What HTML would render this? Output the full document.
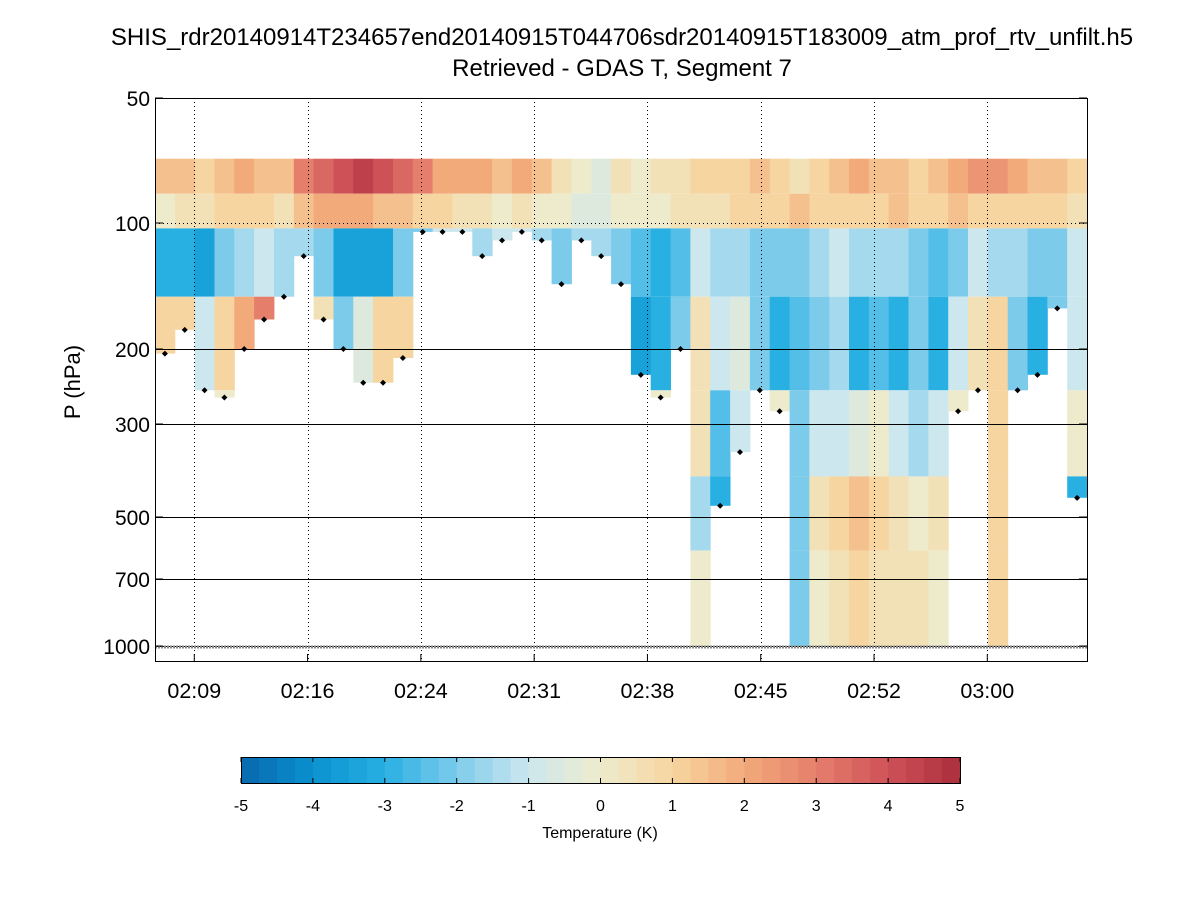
<!DOCTYPE html>
<html><head><meta charset="utf-8">
<style>
body{margin:0;background:#fff;}
svg text{font-family:"Liberation Sans",Arial,sans-serif;fill:#000;}
</style></head>
<body>
<svg id="chart" width="1200" height="900" viewBox="0 0 1200 900" xmlns="http://www.w3.org/2000/svg">
<rect width="1200" height="900" fill="#fff"/>
<text x="622" y="45" font-size="24" text-anchor="middle">SHIS_rdr20140914T234657end20140915T044706sdr20140915T183009_atm_prof_rtv_unfilt.h5</text>
<text x="622" y="76" font-size="24" text-anchor="middle">Retrieved - GDAS T, Segment 7</text>
<text x="0" y="0" font-size="22" text-anchor="middle" transform="translate(80,382) rotate(-90)">P (hPa)</text>
<g id="heat"></g>
<g id="grid"></g>
<g id="marks"></g>
<rect x="155.5" y="98.5" width="932" height="563" fill="none" stroke="#000" stroke-width="1"/>
<g id="axes"></g>
<g id="cbar"></g>
<text x="600" y="838" font-size="16" text-anchor="middle">Temperature (K)</text>
</svg>
<script>
const yTicks=[50,100,200,300,500,700,1000];
const xTickLabels=["02:09","02:16","02:24","02:31","02:38","02:45","02:52","03:00"];
const xTickMinutes=[129,136.5,144,151.5,159,166.5,174,181.5];
const cbTicks=[-5,-4,-3,-2,-1,0,1,2,3,4,5];
const layerTops=[70,85,103,150,250,400,600];
const layerBots=[85,103,150,250,400,600,1000];
const bottoms=[205,180,250,260,200,170,150,120,170,200,240,240,210,105,105,105,120,110,105,110,140,110,120,140,230,260,200,1000,470,350,250,280,1000,1000,1000,1000,1000,1000,1000,1000,280,250,1000,250,230,160,450];
const L1=[1.5,1.5,1,1.5,2,1.5,1.5, 3,3.5,4,4.5,4,3.5,3, 2,2,2,1.5,2,1.5,0.5, 0,-0.5,0.5,0,0.5,0.5,1, 1,1,1.5,1,0.5,1,1.5, 2,1.5,1.5,1,1.5,2,2.5, 2.5,2,1.5,1.5,1];
const L2=[0,0.5,0.5,1,1,1,0.5, 1.5,2,2,2,1.5,1.5,1, 1,0.5,0.5,0,0.5,0,0, -0.5,-0.5,0,0,0,0.5,0.5, 0.5,1,1,1,1.5,1,1, 1,1,1.5,1,1,1.5,1, 1,1,1,1,0.5];
const L3=[-3,-3,-3.5,-2,-1.5,-1,-1.5, -1.5,-2,-3.5,-3.5,-3.5,-2,-2, -1,-1,-1.5,-1,-1,-1.5,-2, -1.5,-1.5,-2,-2.5,-3,-2.5,-1, -1.5,-1.5,-2,-2,-2,-1.5,-1, -1.5,-1.5,-1.5,-2,-2.5,-2,-1, -1.5,-1.5,-2,-2,-1];
const L4=[1,1,-1,1,2,3,1, 0,0.5,-2,-0.5,1,1,0, 0,0,0,0,0,0,0, -2,-2,-3,-3.5,-3,-2,0.5, -1,-0.5,-2,-3,-2.5,-2,-1.5, -3,-2.5,-3,-2,-3,-1,0.5, 1,-2,-3,-2,-1];
const L5=[0,0,0,0,0,0,0, 0,0,0,0,0,0,0, 0,0,0,0,0,0,0, 0,0,0,0,0,0,0.5, -2.5,-1,0,0,-2,-1,-1, -0.5,0,-1,-1.5,-1,0,0, 1,0,0,0,0];
const L6=[0,0,0,0,0,0,0, 0,0,0,0,0,0,0, 0,0,0,0,0,0,0, 0,0,0,0,0,0,-1.5, -3,0,0,0,-2,0.5,1, 1.5,1,0.5,0,0.5,0,0, 1,0,0,0,-3];
const L7=[0,0,0,0,0,0,0, 0,0,0,0,0,0,0, 0,0,0,0,0,0,0, 0,0,0,0,0,0,0, 0,0,0,0,-2,0,0.5, 1,0.5,0.5,0.5,0,0,0, 1,0,0,0,-2];
const layers=[L1,L2,L3,L4,L5,L6,L7];

const svg=document.getElementById('chart');
const NS="http://www.w3.org/2000/svg";
const X0=155,X1=1087,Y0=98,Y1=662;
const tMin=126.4,tMax=188.1;
function xs(m){return X0+(m-tMin)/(tMax-tMin)*(X1-X0);}
const pA=[50,100,200,300,500,700,1000,1100],yA=[98,223,349,424,517,579,646,662];
function ys(p){for(let i=0;i<pA.length-1;i++){if(p<=pA[i+1]){const f=(Math.log(p)-Math.log(pA[i]))/(Math.log(pA[i+1])-Math.log(pA[i]));return yA[i]+f*(yA[i+1]-yA[i]);}}return Y1;}
const cstops=[[-5,[8,104,172]],[-4,[10,145,208]],[-3,[40,176,226]],[-2,[125,203,235]],[-1,[205,231,238]],[0,[238,235,205]],[1,[246,213,160]],[2,[242,170,123]],[3,[229,127,108]],[4,[207,81,88]],[5,[170,46,62]]];
function col(v){v=Math.max(-5,Math.min(5,v));for(let i=0;i<cstops.length-1;i++){if(v<=cstops[i+1][0]){const f=(v-cstops[i][0]);const a=cstops[i][1],b=cstops[i+1][1];return `rgb(${a.map((c,k)=>Math.round(c+f*(b[k]-c))).join(',')})`;}}return 'rgb(170,46,62)';}
function mk(tag,attrs,parent){const e=document.createElementNS(NS,tag);for(const k in attrs)e.setAttribute(k,attrs[k]);parent.appendChild(e);return e;}

const heat=document.getElementById('heat');
const nCol=bottoms.length,cw=(X1-X0)/nCol;
for(let c=0;c<nCol;c++){
  for(let l=0;l<layers.length;l++){
    const top=layerTops[l];let bot=Math.min(layerBots[l],bottoms[c]);
    if(top>=bot)continue;
    const y1=ys(top),y2=ys(bot);
    const r=mk('rect',{x:(X0+c*cw).toFixed(1),y:y1.toFixed(1),width:(cw+0.5).toFixed(1),height:(y2-y1).toFixed(1),fill:col(layers[l][c])},heat);
    
    
  }
}
const grid=document.getElementById('grid');
yTicks.forEach(p=>{
  if(p===50)return;
  const y=Math.round(ys(p))+0.5;
  const ln=mk('line',{x1:X0,x2:X1,y1:y,y2:y,stroke:'#000','stroke-width':1,'stroke-dasharray':p===100?'1,3':''},grid);
  
  
});
xTickMinutes.forEach(m=>{
  const x=Math.round(xs(m))+0.5;
  const ln=mk('line',{x1:x,x2:x,y1:Y0,y2:Y1,stroke:'#000','stroke-width':1,'stroke-dasharray':'1,3'},grid);
  
  
});
const marks=document.getElementById('marks');
for(let c=0;c<nCol;c++){
  if(bottoms[c]>=1000)continue;
  const x=X0+(c+0.5)*cw,y=ys(bottoms[c]);
  const d=mk('path',{d:`M${x-3},${y}L${x},${y-3}L${x+3},${y}L${x},${y+3}Z`,fill:'#000'},marks);
  
  
}
const sl=mk('line',{x1:X0,x2:X1,y1:ys(1000)+1,y2:ys(1000)+1,stroke:'#888','stroke-width':3,'stroke-dasharray':'2,1'},marks);


const axes=document.getElementById('axes');
yTicks.forEach(p=>{
  const y=ys(p);
  const t=mk('text',{x:150,y:y+8,'font-size':21,'text-anchor':'end'},axes);t.textContent=p;
  
  
  mk('line',{x1:X0,x2:X0+8,y1:y,y2:y,stroke:'#000'},axes);
  mk('line',{x1:X1-8,x2:X1,y1:y,y2:y,stroke:'#000'},axes);
});
xTickMinutes.forEach((m,i)=>{
  const x=xs(m);
  const t=mk('text',{x:x,y:698,'font-size':21.5,'text-anchor':'middle'},axes);t.textContent=xTickLabels[i];
  
  
  mk('line',{x1:x,x2:x,y1:Y1-8,y2:Y1,stroke:'#000'},axes);
});
const cb=document.getElementById('cbar');
const cbX0=241,cbX1=960,cbY=757,cbH=26,nS=40;
function cx(v){return cbX0+(v+5)/10*(cbX1-cbX0);}
for(let i=0;i<nS;i++){
  const v=-5+(i+0.5)*10/nS;
  const r=mk('rect',{x:cx(-5+i*10/nS),y:cbY,width:(cbX1-cbX0)/nS+0.5,height:cbH,fill:col(v)},cb);
  
  
}
mk('rect',{x:cbX0+0.5,y:cbY+0.5,width:cbX1-cbX0,height:cbH,fill:'none',stroke:'#000'},cb);
cbTicks.forEach(v=>{
  const x=cx(v);
  mk('line',{x1:x,x2:x,y1:cbY,y2:cbY+5,stroke:'#000'},cb);
  mk('line',{x1:x,x2:x,y1:cbY+cbH-5,y2:cbY+cbH,stroke:'#000'},cb);
  const t=mk('text',{x:x,y:811,'font-size':16,'text-anchor':'middle'},cb);t.textContent=v;
  
  
});
</script>
</body></html>
